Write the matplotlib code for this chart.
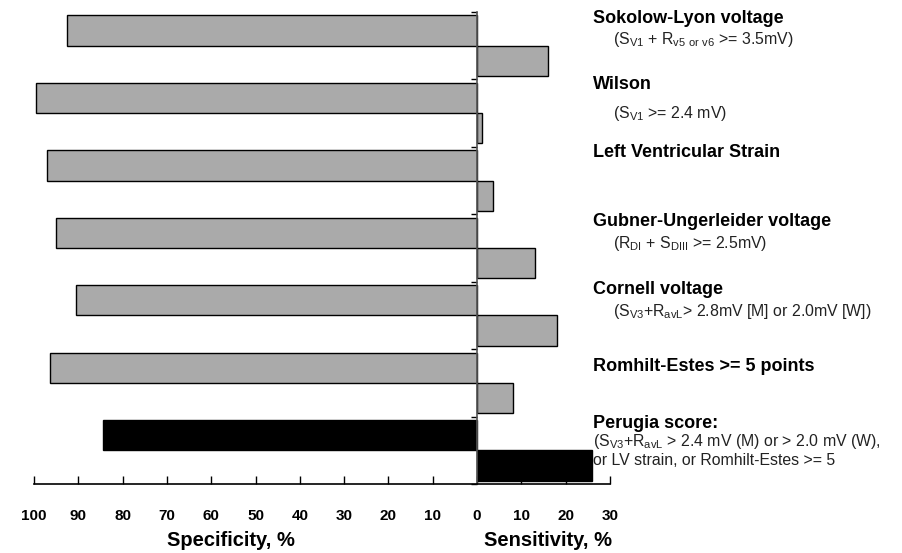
import matplotlib
matplotlib.use("Agg")
import matplotlib.pyplot as plt
import matplotlib.transforms as mtransforms

plt.rcParams['font.family'] = ['Liberation Sans', 'DejaVu Sans']

criterios = ['Sokolow-Lyon voltage', 'Wilson', 'Left Ventricular Strain',
             'Gubner-Ungerleider voltage', 'Cornell voltage',
             'Romhilt-Estes >= 5 points', 'Perugia score:']
especificidad = [92.5, 99.5, 97, 95, 90.5, 96.5, 84.5]
sensibilidad = [16, 1, 3.6, 13, 18, 8, 26]

subtitulos = [
    [r'(S$\mathregular{_{V1}}$ + R$\mathregular{_{v5\ or\ v6}}$ >= 3.5mV)'],
    [r'(S$\mathregular{_{V1}}$ >= 2.4 mV)'],
    [],
    [r'(R$\mathregular{_{DI}}$ + S$\mathregular{_{DIII}}$ >= 2.5mV)'],
    [r'(S$\mathregular{_{V3}}$+R$\mathregular{_{avL}}$> 2.8mV [M] or 2.0mV [W])'],
    [],
    [r'(S$\mathregular{_{V3}}$+R$\mathregular{_{avL}}$ > 2.4 mV (M) or > 2.0 mV (W),',
     'or LV strain, or Romhilt-Estes >= 5'],
]
ticks_x = list(range(-100, 31, 10))

# posiciones de los textos (offset vertical respecto al centro del grupo)
off_titulo = [-0.41, -0.42, -0.41, -0.40, -0.38, -0.25, -0.39]
off_sub = [[-0.09], [0.0], [], [-0.07], [-0.06], [], [-0.135, 0.147]]
x_sub = [1.006, 1.006, None, 1.006, 1.006, None, 0.97]

fig = plt.figure(figsize=(9.02, 5.53), dpi=100)
ax = fig.add_axes([34/902, 1 - 484/553, (610-34)/902, (484-12)/553])

h = 0.45
for i in range(len(criterios)):
    color = 'black' if i == len(criterios) - 1 else '#aaaaaa'
    ax.barh(i - h/2, -especificidad[i], height=h, color=color,
            edgecolor='black', linewidth=1, zorder=2)
    ax.barh(i + h/2, sensibilidad[i], height=h, color=color,
            edgecolor='black', linewidth=1, zorder=2)

ax.set_xlim(-100, 30)
ax.set_ylim(len(criterios) - 0.5, -0.5)

trans = mtransforms.blended_transform_factory(ax.transAxes, ax.transData)
for i, nombre in enumerate(criterios):
    ax.text(0.97, i + off_titulo[i], nombre, transform=trans, fontsize=13,
            fontweight='bold', va='center', ha='left', clip_on=False)
    for linea, off in zip(subtitulos[i], off_sub[i]):
        ax.text(x_sub[i], i + off, linea, transform=trans, fontsize=11.4,
                va='center', ha='left', clip_on=False, color='#222222')

for s in ['top', 'right']:
    ax.spines[s].set_visible(False)
ax.spines['left'].set_position(('data', 0))
ax.spines['left'].set_color('#555555')
ax.spines['left'].set_linewidth(1.2)
ax.spines['bottom'].set_linewidth(1.2)

ax.set_yticks([k - 0.5 for k in range(len(criterios) + 1)])
ax.set_yticklabels([])
ax.tick_params(axis='y', direction='out', length=4, width=1)

ax.set_xticks(ticks_x)
ax.set_xticklabels([str(abs(t)) for t in ticks_x], fontweight='bold', fontsize=11)
ax.tick_params(axis='x', direction='in', length=6, width=1, pad=18)

fig.text(231/902, 1 - 541/553, 'Specificity, %', fontsize=14.5, fontweight='bold',
         ha='center', va='center')
fig.text(548/902, 1 - 541/553, 'Sensitivity, %', fontsize=14.5, fontweight='bold',
         ha='center', va='center')

fig.savefig('out.png', dpi=100)
